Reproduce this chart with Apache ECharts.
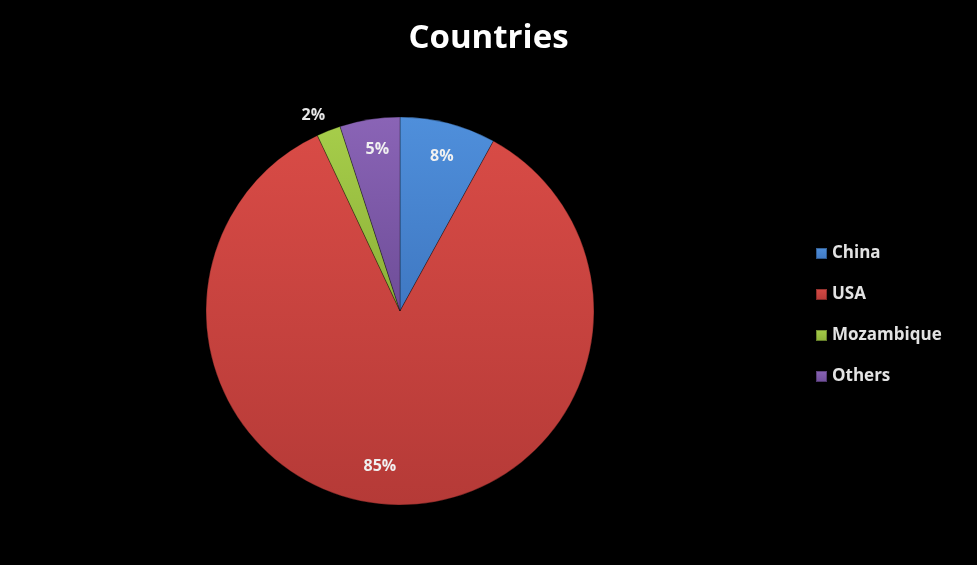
<!DOCTYPE html>
<html>
<head>
<meta charset="utf-8">
<script src="https://cdn.jsdelivr.net/npm/echarts@6/dist/echarts.min.js"></script>
<style>
html,body{margin:0;padding:0;background:#000;}
#chart{width:977px;height:565px;}
</style>
</head>
<body>
<div id="chart"></div>
<script>
var categories = ['China', 'USA', 'Mozambique', 'Others'];
var values = [8, 85, 2, 5];
var colorsTop = ['#4f8fdb', '#d84b46', '#a6cd4a', '#8a64b6'];
var colorsBottom = ['#3f78c2', '#b53a37', '#8cb038', '#6e4d98'];

function grad(i) {
  return {
    type: 'linear', x: 0, y: 0, x2: 0, y2: 1,
    colorStops: [{offset: 0, color: colorsTop[i]}, {offset: 1, color: colorsBottom[i]}]
  };
}

var mainData = categories.map(function (c, i) {
  return {name: c, value: values[i], itemStyle: {color: grad(i)}};
});
var labelData = categories.map(function (c, i) {
  var d = {name: c, value: values[i]};
  if (values[i] < 3) {
    d.label = {position: 'outside', color: '#e6e6e6'};
    d.labelLine = {show: false, length: 4, length2: 0};
  }
  return d;
});

// small label nudges to match the reference placement
var nudges = {0: [1, 4], 1: [-15, -8], 2: [3, -11], 3: [3, 0]};

var chart = echarts.init(document.getElementById('chart'), null, {renderer: 'canvas'});
chart.setOption({
  backgroundColor: '#000',
  animation: false,
  title: {
    text: 'Countries',
    left: 'center', top: 17,
    textStyle: {color: '#ffffff', fontFamily: 'Open Sans', fontWeight: 'bold', fontSize: 33}
  },
  legend: {
    orient: 'vertical',
    left: 810, top: 240,
    itemWidth: 11, itemHeight: 11, itemGap: 24,
    icon: 'rect',
    data: categories,
    textStyle: {color: '#e3e3e3', fontFamily: 'Open Sans', fontWeight: 'bold', fontSize: 17}
  },
  series: [
    {
      type: 'pie',
      center: [400, 311],
      radius: [0, 194],
      startAngle: 90,
      clockwise: true,
      silent: true,
      label: {show: false},
      labelLine: {show: false},
      itemStyle: {borderColor: 'rgba(0,0,0,0.3)', borderWidth: 1},
      data: mainData
    },
    {
      type: 'pie',
      center: [400, 311],
      radius: [128, 194],
      startAngle: 90,
      clockwise: true,
      silent: true,
      itemStyle: {color: 'rgba(0,0,0,0)'},
      label: {
        show: true, position: 'inside',
        formatter: '{d}%',
        color: '#f0f0f0', fontFamily: 'Open Sans', fontWeight: 'bold', fontSize: 16
      },
      labelLine: {show: false},
      labelLayout: function (p) {
        var n = nudges[p.dataIndex] || [0, 0];
        return {dx: n[0], dy: n[1]};
      },
      legendHoverLink: false,
      data: labelData
    }
  ]
});
</script>
</body>
</html>
